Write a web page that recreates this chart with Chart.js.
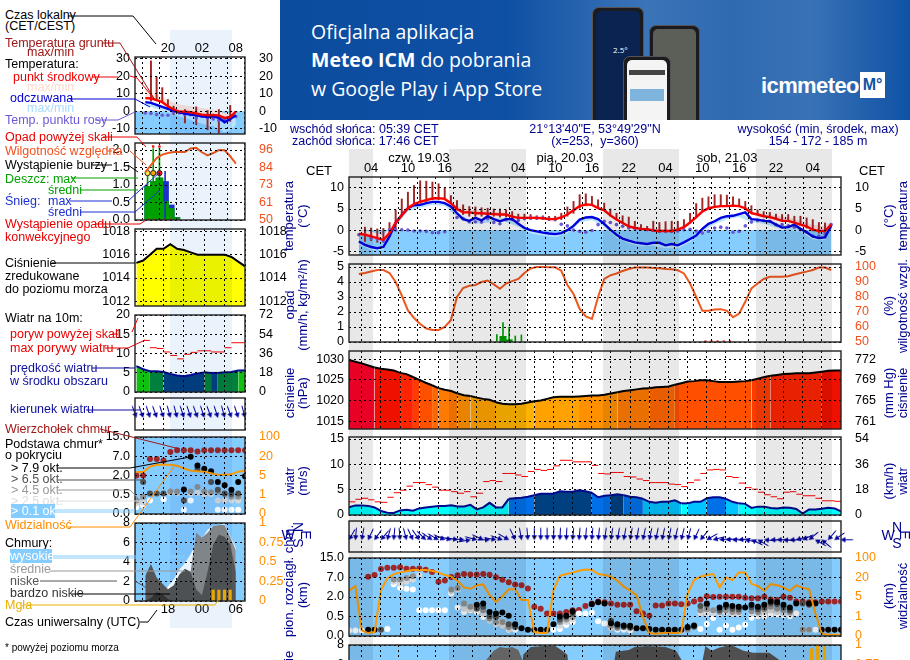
<!DOCTYPE html>
<html lang="pl">
<head>
<meta charset="utf-8">
<title>Meteogram</title>
<script src="https://cdn.jsdelivr.net/npm/chart.js@4"></script>
<style>
  html, body { margin: 0; padding: 0; width: 910px; height: 660px; overflow: hidden; background: #fff; }
  body { position: relative; font-family: "Liberation Sans", Arial, sans-serif; }
  canvas.panel { position: absolute; }
  .t { position: absolute; white-space: nowrap; font-size: 12.5px; line-height: 14px; transform: translateY(-50%); }
  .r { position: absolute; white-space: nowrap; font-size: 13px; line-height: 14px; color: #000090; transform: translate(-50%, -50%) rotate(-90deg); }
  .c { position: absolute; white-space: nowrap; font-size: 12.5px; line-height: 14px; transform: translate(-50%, -50%); }
  .shade { position: absolute; mix-blend-mode: multiply; z-index: 5; }
  #leaders { position: absolute; left: 0; top: 0; z-index: 6; }
  #banner { position: absolute; left: 280px; top: 0; width: 630px; height: 120px; overflow: hidden; color: #fff;
    background: linear-gradient(90deg, #0c4c9f 0%, #0e50a4 36%, #3c74b8 58%, #2f69b0 72%, #3a72b6 84%, #0f52a5 100%);
    font-family: "Open Sans", sans-serif; font-size: 19.5px; }
  #banner div { position: absolute; }
  .phone { background: #1b1b1f; border-radius: 7px; border: 1px solid #555; box-sizing: border-box; overflow: hidden; }
</style>
</head>
<body>

<div id="banner">
  <div style="left:31px;top:18px">Oficjalna aplikacja</div>
  <div style="left:31px;top:46px"><b>Meteo ICM</b> do pobrania</div>
  <div style="left:31px;top:75px">w Google Play i App Store</div>
  <div class="phone" style="left:312px;top:7px;width:52px;height:125px">
    <div style="left:3px;top:3px;width:44px;height:120px;background:#0b2350;border-radius:5px"></div>
    <div style="left:20px;top:36px;font-size:8px">2.5°</div>
  </div>
  <div class="phone" style="left:369px;top:25px;width:51px;height:110px">
    <div style="left:3px;top:3px;width:43px;height:100px;background:#5c5f58;border-radius:5px"></div>
  </div>
  <div class="phone" style="left:343px;top:56px;width:48px;height:80px">
    <div style="left:3px;top:3px;width:40px;height:72px;background:#f4f4f4;border-radius:5px"></div>
    <div style="left:5px;top:13px;width:36px;height:5px;background:#444"></div>
    <div style="left:6px;top:32px;width:34px;height:12px;background:#7fb4dd"></div>
  </div>
  <div style="left:481px;top:73px;font-size:22px;font-weight:700;letter-spacing:-0.6px;font-family:'Liberation Sans'">icmmeteo</div>
  <div style="left:580px;top:72px;width:25px;height:26px;background:#fff;color:#0f52a5;font:700 16px/26px 'Liberation Sans';text-align:center">M°</div>
</div>

<svg id="leaders" width="280" height="660" fill="none" stroke-width="1"></svg>

<script>
// ---- main meteogram: hour 0 = 02 CET on 19.03, one value per hour
const tempMid = [-.9,-1.1,-1.5,-1.9,-2.3,-.7,1.7,3.5,5.2,6.2,6.7,7.1,7.5,7.6,7.4,6.4,5,4.2,4.2,4,4,3.9,3.8,3.7,3.7,3.2,2.9,2.9,2.9,2.9,2.8,2.6,2.6,3,3.7,4.7,5.7,6.1,6,5.2,4.7,3.5,2.5,1.7,.9,.5,.3,.2,-.1,-.2,-.2,-.2,.1,.7,1.8,3.1,4.4,5.2,5.5,5.7,5.7,5.8,5.7,5.2,4,3.7,3.3,3.1,2.7,2.2,2.2,1.8,1.3,.9,.1,-.2,-.2,1.3];
const tempFeels = [-2.7,-3.5,-4,-4.3,-4,-1.5,1.7,3.6,5.2,5.9,6,6.4,6.7,6.7,6.4,5.6,4,2.6,2.2,2.9,2.3,3.3,2.6,2.1,2.6,2.6,1.5,.5,0,-.3,-.6,-.8,-.95,-.7,0,1,2.5,3,3.1,2.6,1.5,.1,-1.1,-2,-2.5,-2.9,-3.1,-3.3,-3,-3,-3.6,-3.3,-3.6,-2.9,-2.1,-1.3,.3,1.5,2.1,2.9,3.3,3.4,3.8,4.2,2.6,2.5,2.2,2.1,1.3,.6,.7,1.3,.3,-.5,-1.5,-1.9,-1.7,1];
const dewPoint = [-1.1,-1.1,-1.9,-2.1,-2.5,.1,0,.1,0,-.2,-.2,-.3,-.6,-.6,-.4,null,3,2.7,2,2,1.9,2.7,1.8,1.5,2.5,2.5,2.3,2.7,2.9,2.9,2.9,2.6,2.5,1.4,1,0,-.3,-.5,-.1,1.3,2.1,1.8,1.3,.9,.5,.4,.2,.1,-.1,-.3,-.3,-.3,-.2,.1,.2,-.2,-.7,-.3,.5,.7,.5,-.5,-.3,1,1.9,2.3,2.3,2.1,1.3,1.3,1,.7,.1,-.5,-1.4,-1.4,-.9,1.3];
const groundMax = [null,.7,.5,.3,.4,1.8,4.8,7.4,9,10.6,11.7,11.6,11.4,11,10,8.2,7,6,5.6,5.5,5.3,5.2,5,5,4.8,4.4,3.8,3.8,3.7,3.4,3.4,3.3,3.3,4,5.5,6.8,8.4,8.6,8,7.2,6.4,5,4,3.4,3.1,2.1,1.3,.9,2.1,1.8,2,2.1,2.1,2.5,4,6.3,7.6,7.9,8.4,8.4,8.3,7.9,7.4,6.8,5.8,4.8,4.4,4.2,3.8,3.7,3.7,3.3,3.3,2.9,2.5,1.8,1.7,null];
const groundMin = [null,-2.7,-2.5,-2.9,-2.9,-1.5,.1,3.3,5,5.8,6.4,6.8,7.2,7.2,7.2,6.4,4.8,3.7,3.3,3.3,3.3,3.3,3.3,3.1,3.1,2.8,2.6,2.5,2.5,2.5,2.5,2.3,2.2,2.5,3.3,4,5.2,5.8,5.8,5.5,4.7,3.3,2.5,1.7,.9,.5,.2,.2,-.1,-.3,-.3,-.3,-.1,.5,1.7,2.9,4.4,5.2,5.5,5.7,5.7,5.8,5.7,5.2,4,3.7,3.3,3.1,2.7,2.2,2.2,1.7,1.3,.5,-.2,-.7,-.5,null];
const bandHours = [0,2,4,6,8,10,12,14,16,18,20,22,24,26,28,30,32,34,36,38,40,42,44,46,48,50,52,54,56,58,60,62,64,66,68,70,72,74,76,77];
const tempHi = [0,-.3,-1.3,2.6,5.8,7.2,7.9,7.8,5.7,4.8,4.7,4.4,4.1,3.2,3.4,3.2,3,4.1,6,6.4,5.2,3,1.3,.7,.3,.2,.5,2.2,4.8,5.8,6,6,4.4,3.8,3.4,3,2.3,1.2,1,2];
const tempLo = [-1.2,-1.8,-2.6,1.4,4.9,6.4,7.2,7.1,4.6,3.9,3.7,3.5,3.4,2.6,2.6,2.5,2.3,3.4,5.4,5.7,4.4,2.2,.6,0,-.4,-.5,-.2,1.5,4.1,5.2,5.4,5.4,3.7,3,2.4,1.9,1,-.2,-.5,1];
const feelsHi = [-2.5,-3.8,-3.8,1.9,5.4,6.2,6.9,6.6,4.2,2.4,2.5,2.8,2.8,1.7,.2,-.4,-.7,.2,2.7,3.3,1.7,-.9,-2.3,-2.9,-2.8,-3.4,-3.4,-1.9,.5,2.3,3.5,4,2.8,2.4,1.5,.9,.5,-1.3,-1.5,1.2];
const feelsLo = [-3.3,-4.7,-4.7,1,4.4,5.3,6,5.7,3.2,1.5,1.6,1.9,1.9,.8,-.8,-1.3,-1.7,-.8,1.8,2.4,.8,-1.8,-3.1,-3.8,-3.7,-4.3,-4.3,-2.8,-.4,1.4,2.6,3.1,1.9,1.5,.6,-.1,-.4,-2.2,-2.4,.3];
const freezeHours = [0,77];
const freezeLine = [0,0];

const humidity = [95.3,96,97,98,98,96,90,81,71,66,62,59,58,58,60,64.5,80,86,87.5,88,90,91,88.4,85.5,89,90.6,92,96,99,100,100,99.8,99.8,97.5,88,82,72,67,65.4,80,92,94.4,95.7,97.3,98.7,99.6,99.6,99.6,99.4,99.2,98.7,98.5,97.8,95.7,89,80,70.8,70.8,71.6,71.9,70.8,66.5,69,76.8,85.7,89,92,93.5,93.5,93.5,93.8,95,96,96.9,98,99.6,99.6,98];
const rainMeanHours = [23.5,24.5];
const rainMean = [.38,.15];
const rainMaxHours = [21.5,22.5,23.5,24.5,25.5,26.5];
const rainMax = [.1,.5,1.3,1,.4,.47];
const convectiveHours = [56.5,57.5,58.5,59.5,60.5];
const convective = [.03,.03,.03,.03,.03];

const pressure = [1029.8,1029.4,1029,1028.5,1028,1027.7,1027.5,1027.3,1026.7,1026.4,1025.7,1025,1024.3,1023.7,1023,1022.6,1022.3,1021.7,1021.3,1021.1,1020.7,1020.4,1020.2,1019.6,1019.2,1019.1,1019.1,1019.2,1019.5,1019.8,1020,1020.4,1020.8,1020.9,1020.9,1020.9,1021,1021.1,1021.2,1021.2,1021.4,1021.7,1022,1022.3,1022.5,1022.7,1022.9,1023,1023.2,1023.3,1023.4,1023.8,1024.2,1024.6,1024.7,1024.9,1024.9,1024.7,1024.5,1024.5,1024.5,1024.6,1024.7,1024.9,1025.3,1025.7,1026,1026.2,1026.4,1026.5,1026.6,1026.6,1026.6,1026.8,1027,1027.2,1027.3,1027.3];
const pressureSteps = [1016.8,1018,1019.7,1021,1022,1023,1024,1025,1026,1027,1028,1029];
const pressureColors = ['#ffff00','#ffc800','#ffb300','#ffa200','#ff9000','#ff7a00','#ff6600','#ff5000','#ff3c00','#ff2400','#f01000','#ff0028','#ff0028'];

const windSpeed = [1.5,1.9,1.9,1.8,1.5,.8,.45,.4,.9,1.05,.85,1.3,1.5,1.65,1.8,1.8,1.9,1.7,1.7,2,1.1,1.5,2.4,1.5,1.5,3.2,3.3,3.4,3.6,3.9,4.2,4.2,4.2,4.7,4.6,4.6,4.9,4.7,4.4,3.5,3.8,3.9,4.1,3.9,3.6,3.5,3.2,2.6,2.4,2.6,2.6,2.9,2.3,2.3,2.6,2.6,3.3,3.5,3.5,3.2,2.6,2.3,2.2,1.4,1.65,1.65,1.4,1.3,1.5,1.45,1.2,.3,1.1,1.1,1.25,1.45,1.3,.7];
const windSteps = [2.45,3,4,5,5.5];
const windColors = ['#00ffff','#00c4ff','#0070e8','#004080','#00803c','#10c010'];
const gustHours = [.5,1.5,2.5,3.5,4.5,5.5,6.5,7.5,8.5,9.5,10.5,11.5,12.5,13.5,14.5,15.5,16.5,17.5,18.5,19.5,20.5,21.5,22.5,23.5,24.5,25.5,26.5,27.5,28.5,29.5,30.5,31.5,32.5,33.5,34.5,35.5,36.5,37.5,38.5,39.5,40.5,41.5,42.5,43.5,44.5,45.5,46.5,47.5,48.5,49.5,50.5,51.5,52.5,53.5,54.5,55.5,56.5,57.5,58.5,59.5,60.5,61.5,62.5,63.5,64.5,65.5,66.5,67.5,68.5,69.5,70.5,71.5,72.5,73.5,74.5,75.5,76.5];
const gusts = [2.6,3.1,3.3,3,2.6,2.5,3.5,4.4,4.9,5.7,6.4,6.4,6,5.5,4.9,4.9,4.6,4.3,4.6,3.6,4.3,6.6,6.8,6.6,8.2,8.2,7.9,7.6,8.6,9,8.8,9,9.7,10.8,10.8,10.5,10.5,10.5,9.8,8.2,8.1,8.4,8.4,7.6,7.5,7.1,6.8,6.4,6.4,6.4,6.1,6,5.6,6.4,6.9,8.2,8.9,9,8.9,7.6,7.4,6.3,5.4,5.1,4.5,4,3.6,3.2,4.5,4.6,4.1,3.8,3.8,3.3,2.8,2.8,2.7];

const windDir = [30,5,10,25,35,40,15,5,355,345,335,325,315,305,300,295,285,280,275,260,285,295,270,280,290,300,335,350,355,0,0,0,2,3,3,5,5,5,5,6,8,8,10,10,10,10,12,12,12,12,12,13,14,15,25,40,60,75,85,85,90,85,100,115,120,95,90,90,95,90,75,65,50,120,130,40,55,90];

const cloudTop = [null,null,null,7.3,8,10.5,11,11,11.2,10.6,10.6,10.7,10.2,9.3,5.9,6.2,7.2,7.9,8.4,8.2,8.2,8.4,8.1,7.1,6.4,5.8,5.2,5,4.2,1.25,1.1,.73,.73,.73,.85,.98,1,1.3,1.5,1.65,1.6,1.5,1.4,1.4,1.4,.9,.73,.55,1.35,1.35,1.5,1.5,1.45,1.5,1.65,1.8,2.2,2,2.05,2.05,2.05,2.05,1.95,1.9,1.9,2.05,1.8,1.76,2.05,1.95,1.65,1.65,1.6,1.6,1.65,1.65,1.65,1.65];
const cover79Hours = [3,4,20,21,22,23,24,25,26,27,28,29,30,31,32,33,34,35,38,39,40,41,42,43,44,45,46,47,48,49,50,51,52,53,54,56,58,59,60,61,62,63,64,65,66,67,68,69,70,72,73,74,75,76,77];
const cover79 = [.16,.16,1.4,1.5,.85,.73,.8,.55,.3,.2,.16,.16,.16,.16,.3,.5,.55,.9,1.45,1.6,1.5,.33,.3,.27,.26,.2,.2,.18,.16,.16,.16,.16,.16,.23,.27,1.5,1.2,1.4,1.3,1.25,1.2,1.4,1.25,1.4,1.65,1.6,1.4,1.2,1.5,1.5,1.5,.16,.16,.16,.16];
const cover65Hours = [5,20,21,22,23,25,26,33,34,35,41,42,43,44,53,54,55,56,58,59,60,61,63,64,65,66,67,68,69,71,72];
const cover65 = [.16,1.1,1.25,.52,.49,.3,.23,.42,.49,.73,.39,.26,.23,.21,.21,.24,1.3,1.4,.98,1.25,1.1,1.05,1.2,1.05,1.2,1.5,1.45,1.2,.98,1.5,1.4];
const cover45Hours = [7,8,9,10,16,17,18,19,20,21,22,23,24,25,33,34,35,41,42,53,55,56,57,58,59,60,61,63,64,65,66,67,68,69,71,72];
const cover45 = [6.5,6.5,6.9,7.5,3.9,4.3,1.5,1.25,1.25,.98,.45,.36,.36,.23,.36,.42,.49,.26,.21,.16,.98,1.05,.98,.85,.98,.85,.85,.9,.85,1.05,1.25,1.1,.98,.85,.16,.16];
const cover25Hours = [7,8,9,10,11,16,17,18,19,21,22,23,24,25,33,34,35,41,55,56,57,58,59,60,61,63,64,65,66,67,68,69];
const cover25 = [5.9,5.4,5.9,6.5,8,3.5,3.9,1.1,1.05,.73,.39,.3,.26,.18,.26,.36,.42,.2,.73,.73,.73,.73,.78,.7,.7,.73,.73,.85,.98,.85,.73,.73];
const cover01Hours = [0,1,2,3,6,7,8,9,10,11,12,13,14,15,16,17,18,19,20,21,22,23,24,25,26,32,33,34,35,36,37,38,39,40,41,42,43,44,55,56,57,58,59,60,61,62,63,64,65,66,67,68,69,70,72,73,74];
const cover01 = [.14,.14,.14,.14,.18,5.3,4.4,4.1,3.9,.98,.98,.98,.98,.98,2.9,1.2,.85,.98,.85,.49,.45,.36,.36,.16,.16,.16,.18,.28,.36,.73,.73,.78,.38,.32,.22,.16,.16,.14,.18,.31,.46,.16,.27,.16,.22,.29,.47,.52,.52,.66,.66,.6,.52,.73,.16,.16,.16];

const visibility = [9.8,13.4,.29,.15,.2,10.3,19.3,34,41,46,51,51,51,48,40,30,23,17.3,12.4,11.3,14,14.7,6.5,4,5.6,10.9,10.9,4.4,4.4,.2,.15,.15,10.3,27,34,40,48,53,51,34,30,23,17.6,13,9.8,6.5,.98,.15,.12,.15,.15,.15,.18,7.7,18,23,30,34,12.4,20.5,18,41,41,15,13.4,9.8,15,14,12.4,9.8,14,12,11,1.6,.12,.07,.07,.07];

const coverMidHours = [19,20.7,22,23,24,25,26,27,27.5];
const coverMid = [0,6.4,7.4,7.8,7.7,7.8,7.5,6,0];
const coverLowHours = [26,26.8,28,30,32,33,34,35,40,41.9,44,45,47,50,51.7,52.6,54,56.5,57.5,58.8,60.7,62.7,64.3,66.9,68.5,70];
const coverLow = [0,7,7.8,7.9,7.9,7.5,7,0,0,7.3,7.5,7.8,7.9,7.8,7.4,6.5,0,7.9,7.4,7.75,8,7.4,7.2,7.2,6.5,0];
const fogHours = [2.8,31,47.9,73.8,74.8,75.9,76.9];
const fog = [.55,.55,.72,.95,1,.98,.75];

// ---- small legend meteogram on the left
const miniHours = [16,17,18,19,20,21,22,23,24,25,26,27,28,29,30,31,32];
const miniTemp = [7.5,7.3,6.3,5.2,2.9,1,-.2,-.2,-.6,-1.3,-1.9,-2.3,-2.1,-2.5,-3.8,-3.3,-.2];
const miniFeels = [5.2,4.8,3.7,2.5,1.3,.4,-.6,-1.3,-1.9,-2.3,-2.9,-3.3,-2.9,-3.8,-6.3,-4.4,-2.3];
const miniDew = [-1,-1.3,-1.9,-2.3,-2.3,-.6,-1,-1.9,-1.9,-3.8,-2.9,-3.8,-4.4,-5.2,-4.8,-3.8,-3];
const miniTempHi = [13.5,11.5,9.6,8,6.7,5,3.8,3.4,2.9,2.4,1.9,1.5,1,0,-1,-.5,.6];
const miniFeelsLo = [3,2.5,1.5,.5,-.5,-1.5,-3,-4,-5,-6,-7,-8,-8.5,-10,-12,-11,-8];
const miniGroundHours = [17,18,19,20,21,23,25,27,29,31];
const miniGroundMax = [28.8,19.6,13.5,6.7,2.9,1,2.5,.4,1,3.3];
const miniGroundMin = [5.8,6,5.8,.9,-1.9,-6.7,-7.7,-10.6,-12.5,-5.8];
const miniHumidity = [81.5,86,90.7,93,94,94.7,94.7,94.7,97,97.4,94.5,92.5,94,96,95.8,92,87];
const miniRainHours = [16.5,17.5,18.5,19.5,20.5,21.5];
const miniRain = [.96,1.1,1.2,.53,.33,.07];
const miniSnow = [.96,1.1,1.2,1.1,.43,.07];
const miniRainMaxHours = [16.4,17.4,18.5];
const miniRainMax = [1.34,2.04,2.04];
const miniSnowMaxHours = [19.5];
const miniSnowMax = [1.39];
const miniOverflow = [2.1,2.1];
const miniOverflowHours = [17.4,18.5];
const miniStorm = [1.34,1.34,1.34];
const miniStormColors = ['#ffee33','#ffa500','#ee1111'];
const miniConvectiveHours = [16.5,17.5,18.5,19.5,20.5];
const miniConvective = [.02,.02,.02,.02,.02];
const miniPressure = [1015.3,1015.5,1016,1016.5,1016.5,1016.9,1016.5,1016.4,1016.2,1016,1016,1016,1016,1016,1015.8,1015.4,1015];
const miniWind = [6.7,5.9,5.4,5.4,5.2,4.7,4.3,4.1,4.4,4.8,5.1,4.95,4.95,5.1,5.2,5.6,5.6];
const miniGustHours = [17.5,18.5,19.5,20.5,21.5,22.5,23.5,24.5,25.5,26.5,27.5,28.5,29.5,30.5,31.5];
const miniGusts = [13.4,11.5,11.3,10.4,9.5,8.6,9.8,10.3,10.7,10.7,10.4,10.4,11.5,12.8,12.8];
const miniDir = [340,340,342,340,342,345,345,342,342,340,342,340,342,345,340,342,345];
const miniTop = [2,2,6.3,6.3,5.9,8.8,9.5,9.5,9.5,9,9.5,9.5,9.5,9.5,9.5,9.5,9.5];
const mini79Hours = [23,24,25,26,27,28,29,30,31,32];
const mini79 = [.9,6.9,4.6,3.75,3.1,1.5,1.25,.88,1.5,1.95];
const mini65Hours = [17,18,19,20,23,25,27,28,29,30,31];
const mini65 = [1.5,.6,.6,.6,.35,3.7,1.5,.88,.6,.55,.6];
const mini45Hours = [16,17,21,22,24,25,26,27,28,29,30,31];
const mini45 = [.35,.45,.75,.75,.75,1.1,.75,.7,.75,.55,.45,.45];
const mini25Hours = [16,17,20,21,22,24,25,26,27,28,29,30,31];
const mini25 = [.28,.3,.6,.65,.65,.6,.65,.6,.55,.35,.35,.35,.35];
const mini01Hours = [16,17,18,20,23,24,26,27,28,29,30,31];
const mini01 = [.18,.22,.35,.38,.11,.35,.6,.6,.11,.11,.11,.11];
const miniVisibility = [7.7,7.7,11.9,13.4,13.4,13.4,12.6,10.5,8.8,8.3,8,6.7,5.5,5.5,5.9,8,8.8];
const miniHigh = [0,0,0,0,1.5,2.2,3.2,3.9,4.8,5.9,6.4,7.3,7.7,7.8,7.9,6.7,5.4];
const miniMid = [0,0,0,0,0,0,0,0,3,7,6.5,7,7.7,7.8,7.8,6.6,5.2];
const miniLow = [2.6,3.8,2.4,1.8,1.2,1.6,2.7,3.3,3,1.2,.6,3,5.8,6.8,6.6,5.8,3];
const miniVeryLow = [0,.3,.9,.7,.2,0,0,0,0,0,0,0,0,0,0,0,0];
const miniFogHours = [28,29,30,31];
const miniFog = [.14,.14,.14,.14];

// tick labels
const hourTicks = [2,5,8,11,14,17,20,23,26,29,32,35,38,41,44,47,50,53,56,59,62,65,68,71,74];
const hourLabels = ['04','','10','','16','','22','','04','','10','','16','','22','','04','','10','','16','','22','','04'];
const miniHourTicks = [17,20,23,26,29,32];
const miniLocalLabels = ['','20','','02','','08'];
const miniUtcLabels = ['','18','','00','','06'];
const cloudStops = [0,.5,2,7,15];
const visStops = [0,1,5,20,100];
const cloudLabels = ['0.0','0.5','2.0','7.0','15.0'];
const visLabels = ['0','1','5','20','100'];

const BLUE_ZONE = '#85ccff';
const ORANGE = '#ff8c00';
const CLOUD_COLORS = ['#000000','#505050','#909090','#d8d8d8','#ffffff'];

// place a value on the cloud / visibility axis, which has equal steps between its ticks
function toLevel(v, stops) {
  if (v === null) return null;
  for (let i = 0; i < stops.length - 1; i++) {
    if (v <= stops[i + 1]) return i + (v - stops[i]) / (stops[i + 1] - stops[i]);
  }
  return stops.length - 1;
}
function pairs(xs, ys) { return xs.map((x, i) => ({ x: x, y: ys[i] })); }
function hourly(ys) { return ys.map((y, i) => ({ x: i, y: y })); }
function levels(xs, ys, stops) { return xs.map((x, i) => ({ x: x, y: toLevel(ys[i], stops) })); }
function floating(xs, lo, hi) {
  return xs.map((x, i) => ({ x: x, y: hi[i] === null ? null : [lo[i], hi[i]] })).filter(p => p.y);
}
function stepColor(v, steps, colors) {
  let i = 0;
  while (i < steps.length && v >= steps[i]) i++;
  return colors[i];
}
function line(data, color, width) {
  return { type: 'line', data: data, borderColor: color, borderWidth: width, pointRadius: 0, tension: 0, fill: false };
}
function dots(data, color, radius) {
  return { type: 'line', data: data, showLine: false, pointRadius: radius, pointBackgroundColor: color, pointBorderWidth: 0 };
}
function band(data, color, fill) {
  return { type: 'line', data: data, borderWidth: 0, pointRadius: 0, backgroundColor: color, fill: fill };
}
function bars(data, color, thickness, axis) {
  return { type: 'bar', data: data, backgroundColor: color, barThickness: thickness, grouped: false, yAxisID: axis || 'y' };
}
function dashes(data, size) {
  return { type: 'line', data: data, showLine: false, pointStyle: 'line', pointRadius: size, pointBorderColor: '#ff0000', pointBorderWidth: 1 };
}
function stepFill(data, steps, colors, lineColor) {
  return {
    type: 'line', data: data, borderColor: lineColor, borderWidth: 2, pointRadius: 0, fill: 'start', backgroundColor: colors[0],
    segment: { backgroundColor: ctx => stepColor((ctx.p0.parsed.y + ctx.p1.parsed.y) / 2, steps, colors) }
  };
}

// arrow glyph: the tip sits on the canvas centre and the tail goes up at rotation 0
function arrowGlyph(length) {
  const c = document.createElement('canvas');
  c.width = c.height = 33;
  const g = c.getContext('2d');
  g.strokeStyle = g.fillStyle = '#0000a0';
  g.lineWidth = 1;
  g.beginPath(); g.moveTo(16.5, 16.5 - length); g.lineTo(16.5, 16); g.stroke();
  g.beginPath(); g.moveTo(16.5, 17); g.lineTo(13.8, 12); g.lineTo(19.2, 12); g.closePath(); g.fill();
  return c;
}
function arrows(xs, dirs, length) {
  return { type: 'line', data: xs.map(x => ({ x: x, y: 0 })), showLine: false, clip: false,
           pointStyle: arrowGlyph(length), pointRotation: dirs };
}

const panelPlugin = {
  id: 'panelFrame',
  beforeDraw(chart, args, opts) {
    if (!opts.bg) return;
    const a = chart.chartArea;
    chart.ctx.fillStyle = opts.bg;
    chart.ctx.fillRect(a.left, a.top, a.width, a.height);
  },
  afterDraw(chart) {
    const a = chart.chartArea, ctx = chart.ctx;
    ctx.strokeStyle = '#222';
    ctx.lineWidth = 1.4;
    ctx.strokeRect(a.left, a.top, a.width, a.height);
  }
};

// one chart per meteogram panel, the canvas holds the panel plus its axis gutters
function addPanel(p) {
  const GL = p.gutterLeft, GR = p.gutterRight, G = 20;
  const canvas = document.createElement('canvas');
  canvas.className = 'panel';
  canvas.width = p.width + GL + GR;
  canvas.height = p.height + G * 2;
  canvas.style.left = (p.left - GL) + 'px';
  canvas.style.top = (p.top - G) + 'px';
  document.body.appendChild(canvas);

  const xBottom = p.xPos === 'bottom';
  const yCommon = {
    grid: { display: false }, border: { display: false }, 
  };
  const fixedTicks = list => axis => { axis.ticks = list.map(v => ({ value: v })); };
  const scales = {
    x: {
      type: 'linear', position: xBottom ? 'bottom' : 'top', min: p.xMin, max: p.xMax,
      afterBuildTicks: fixedTicks(p.xTicks),
      afterFit: axis => { axis.height = G; },
      grid: { color: '#000', z: 1, drawTicks: false },
      border: { display: false, dash: [2, 3] },
      ticks: {
        display: !!p.xLabels, padding: 1, maxRotation: 0, autoSkip: false, color: '#000',
        font: { family: 'Liberation Sans', size: 13 },
        callback: (v, i) => (p.xLabels ? p.xLabels[i] : '')
      }
    },
    y: Object.assign({}, yCommon, {
      min: p.yMin, max: p.yMax, position: 'left',
      afterBuildTicks: fixedTicks(p.yTicks || []),
      afterFit: axis => { axis.width = GL; },
      grid: { display: !!p.yTicks, color: '#000', z: 1, drawTicks: false },
      border: { display: false, dash: [2, 3] },
      ticks: {
        display: !!p.yLabels, padding: 5, autoSkip: false, color: '#000',
        font: { family: 'Liberation Sans', size: 12.5 },
        callback: (v, i) => (p.yLabels ? p.yLabels[i] : '')
      }
    }),
    y2: Object.assign({}, yCommon, {
      min: p.y2Min !== undefined ? p.y2Min : p.yMin, max: p.y2Max !== undefined ? p.y2Max : p.yMax, position: 'right',
      afterBuildTicks: fixedTicks(p.y2Ticks || p.yTicks || []),
      afterFit: axis => { axis.width = GR; },
      ticks: {
        display: !!p.y2Labels, padding: 6, autoSkip: false, color: p.y2Color || '#000',
        font: { family: 'Liberation Sans', size: 12.5 },
        callback: (v, i) => (p.y2Labels ? p.y2Labels[i] : '')
      }
    })
  };

  return new Chart(canvas, {
    type: 'line',
    data: { datasets: p.datasets },
    plugins: [panelPlugin],
    options: {
      responsive: false,
      animation: false,
      layout: { padding: { top: xBottom ? G : 0, bottom: xBottom ? 0 : G, left: 0, right: 0 } },
      scales: scales,
      plugins: { legend: { display: false }, tooltip: { enabled: false }, panelFrame: { bg: p.bg } }
    }
  });
}

const MAIN = { left: 349, width: 492, gutterLeft: 49, gutterRight: 59, xMin: 0, xMax: 77, xTicks: hourTicks };
const MINI = { left: 135, width: 110, gutterLeft: 40, gutterRight: 45, xMin: 15.8, xMax: 32, xTicks: miniHourTicks };

// ---- main panels
addPanel({ ...MAIN, top: 177, height: 78, xLabels: hourLabels,
  yMin: -5.9, yMax: 12.6, yTicks: [-5, 0, 5, 10], yLabels: ['-5', '0', '5', '10'], y2Labels: ['-5', '0', '5', '10'],
  datasets: [
    line(hourly(tempMid), '#ff0000', 2.4),
    line(hourly(tempFeels), '#0000e0', 2.4),
    dots(hourly(dewPoint), '#6a5ad8', 1.8),
    bars(floating(hourly(groundMax).map(p => p.x), groundMin, groundMax), '#a02828', 1.3),
    band(pairs(bandHours, tempHi), '#ffdcdc', '+1'),
    band(pairs(bandHours, tempLo), '#ffdcdc', false),
    band(pairs(bandHours, feelsHi), '#b8e4ff', '+1'),
    band(pairs(bandHours, feelsLo), '#b8e4ff', false),
    band(pairs(freezeHours, freezeLine), BLUE_ZONE, 'start')
  ] });

addPanel({ ...MAIN, top: 264, height: 78,
  yMin: 0, yMax: 5.2, yTicks: [0, 1, 2, 3, 4, 5], yLabels: ['0', '1', '2', '3', '4', '5'],
  y2Min: 50, y2Max: 102, y2Ticks: [50, 60, 70, 80, 90, 100], y2Labels: ['50', '60', '70', '80', '90', '100'], y2Color: '#f0501e',
  datasets: [
    Object.assign(line(hourly(humidity), '#f0581e', 2), { yAxisID: 'y2' }),
    Object.assign(dots(pairs(convectiveHours, convective), '#ee1111', 1.6), { pointStyle: 'rect' }),
    bars(pairs(rainMaxHours, rainMax), '#00a000', 1),
    bars(pairs(rainMeanHours, rainMean), '#00a000', 6.4)
  ] });

addPanel({ ...MAIN, top: 351, height: 78,
  yMin: 1013.1, yMax: 1032, yTicks: [1015, 1020, 1025, 1030], yLabels: ['1015', '1020', '1025', '1030'], y2Labels: ['761', '765', '769', '772'],
  datasets: [stepFill(hourly(pressure), pressureSteps, pressureColors, '#000')] });

addPanel({ ...MAIN, top: 437, height: 78,
  yMin: 0, yMax: 15.4, yTicks: [0, 5, 10, 15], yLabels: ['0', '5', '10', '15'], y2Labels: ['0', '18', '36', '54'],
  datasets: [
    dashes(pairs(gustHours, gusts), 3.2),
    stepFill(hourly(windSpeed), windSteps, windColors, '#000a90')
  ] });

addPanel({ ...MAIN, top: 521, height: 31, yMin: -.65, yMax: 1,
  datasets: [arrows(hourly(windDir).map(p => p.x), windDir, 12)] });

addPanel({ ...MAIN, top: 558, height: 78, bg: BLUE_ZONE,
  yMin: 0, yMax: 4, yTicks: [0, 1, 2, 3, 4], yLabels: cloudLabels, y2Labels: visLabels, y2Color: ORANGE,
  datasets: [
    line(hourly(visibility.map(v => toLevel(v, visStops))), '#ff9a00', 2),
    dots(levels(cover79Hours, cover79, cloudStops), CLOUD_COLORS[0], 3),
    dots(levels(cover65Hours, cover65, cloudStops), CLOUD_COLORS[1], 3),
    dots(levels(cover45Hours, cover45, cloudStops), CLOUD_COLORS[2], 3),
    dots(levels(cover25Hours, cover25, cloudStops), CLOUD_COLORS[3], 3),
    dots(levels(cover01Hours, cover01, cloudStops), CLOUD_COLORS[4], 3),
    dots(hourly(cloudTop.map(v => toLevel(v, cloudStops))), '#a02828', 3)
  ] });

addPanel({ ...MAIN, top: 645, height: 78, bg: BLUE_ZONE,
  yMin: 0, yMax: 8, yTicks: [0, 2, 4, 6, 8], yLabels: ['0', '2', '4', '6', '8'],
  y2Min: 0, y2Max: 1, y2Ticks: [0, .25, .5, .75, 1], y2Labels: ['0', '0.25', '0.5', '0.75', '1'], y2Color: ORANGE,
  datasets: [
    bars(pairs(fogHours, fog), '#ffb000', 2.5, 'y2'),
    Object.assign(band(pairs(coverLowHours, coverLow), '#505050', 'start')),
    Object.assign(band(pairs(coverMidHours, coverMid), '#6e6e6e', 'start'))
  ] });

// ---- legend panels
addPanel({ ...MINI, top: 57, height: 77, xLabels: miniLocalLabels,
  yMin: -13, yMax: 31, yTicks: [-10, 0, 10, 20, 30], yLabels: ['-10', '0', '10', '20', '30'], y2Labels: ['-10', '0', '10', '20', '30'],
  datasets: [
    line(pairs(miniHours, miniTemp), '#ff0000', 2.4),
    line(pairs(miniHours, miniFeels), '#0000e0', 2.4),
    dots(pairs(miniHours, miniDew), '#6a5ad8', 1.8),
    bars(floating(miniGroundHours, miniGroundMin, miniGroundMax), '#a02828', 1.3),
    band(pairs(miniHours, miniTempHi), '#ffe6dc', '+1'),
    band(pairs(miniHours, miniTemp), '#ffe6dc', false),
    band(pairs(miniHours, miniFeels), '#b8e4ff', '+1'),
    band(pairs(miniHours, miniFeelsLo), '#b8e4ff', false),
    band(pairs(freezeHours, freezeLine), BLUE_ZONE, 'start')
  ] });

addPanel({ ...MINI, top: 143, height: 77,
  yMin: 0, yMax: 2.2, yTicks: [0, .5, 1, 1.5, 2], yLabels: ['0.0', '0.5', '1.0', '1.5', '2.0'],
  y2Min: 50, y2Max: 100.6, y2Ticks: [50, 61.5, 73, 84.5, 96], y2Labels: ['50', '61', '73', '84', '96'], y2Color: '#f0501e',
  datasets: [
    Object.assign(line(pairs(miniHours, miniHumidity), '#f0581e', 2), { yAxisID: 'y2' }),
    Object.assign(dots(pairs(miniOverflowHours, miniOverflow), '#ee1111', 1.7), { pointStyle: 'rect' }),
    Object.assign(dots(pairs(miniRainMaxHours, miniStorm), miniStormColors, 2.6), { pointBorderWidth: 1, pointBorderColor: '#222' }),
    Object.assign(dots(pairs(miniConvectiveHours, miniConvective), '#ee1111', 1), { pointStyle: 'rect' }),
    bars(pairs(miniRainMaxHours, miniRainMax), '#00a000', 1),
    bars(pairs(miniSnowMaxHours, miniSnowMax), '#1c30d0', 1),
    bars(pairs(miniRainHours, miniRain), '#00a000', 6.9),
    bars(pairs(miniRainHours, miniSnow), '#1c30d0', 6.9)
  ] });

addPanel({ ...MINI, top: 229, height: 77,
  yMin: 1011.6, yMax: 1018.2, yTicks: [1012, 1014, 1016, 1018], yLabels: ['1012', '1014', '1016', '1018'], y2Labels: ['1012', '1014', '1016', '1018'],
  datasets: [stepFill(pairs(miniHours, miniPressure), pressureSteps, pressureColors, '#000')] });

addPanel({ ...MINI, top: 315, height: 77,
  yMin: 0, yMax: 20, yTicks: [0, 5, 10, 15, 20], yLabels: ['0', '5', '10', '15', '20'], y2Labels: ['0', '18', '36', '54', '72'],
  datasets: [
    dashes(pairs(miniGustHours, miniGusts), 3.4),
    stepFill(pairs(miniHours, miniWind), windSteps, windColors, '#000a90')
  ] });

addPanel({ ...MINI, top: 398, height: 32, yMin: -.65, yMax: 1,
  datasets: [arrows(miniHours, miniDir, 12)] });

addPanel({ ...MINI, top: 437, height: 77, bg: BLUE_ZONE,
  yMin: 0, yMax: 4, yTicks: [0, 1, 2, 3, 4], yLabels: cloudLabels, y2Labels: visLabels, y2Color: ORANGE,
  datasets: [
    line(pairs(miniHours, miniVisibility.map(v => toLevel(v, visStops))), '#ff9a00', 2),
    dots(levels(mini79Hours, mini79, cloudStops), CLOUD_COLORS[0], 3),
    dots(levels(mini65Hours, mini65, cloudStops), CLOUD_COLORS[1], 3),
    dots(levels(mini45Hours, mini45, cloudStops), CLOUD_COLORS[2], 3),
    dots(levels(mini25Hours, mini25, cloudStops), CLOUD_COLORS[3], 3),
    dots(levels(mini01Hours, mini01, cloudStops), CLOUD_COLORS[4], 3),
    dots(levels(miniHours, miniTop, cloudStops), '#a02828', 3)
  ] });

addPanel({ ...MINI, top: 523, height: 78, bg: BLUE_ZONE, xPos: 'bottom', xLabels: miniUtcLabels,
  yMin: 0, yMax: 8, yTicks: [0, 2, 4, 6, 8], yLabels: ['0', '2', '4', '6', '8'],
  y2Min: 0, y2Max: 1, y2Ticks: [0, .25, .5, .75, 1], y2Labels: ['0', '0.25', '0.5', '0.75', '1'], y2Color: ORANGE,
  datasets: [
    bars(pairs(miniFogHours, miniFog), '#ffb000', 2.5, 'y2'),
    band(pairs(miniHours, miniVeryLow), '#333333', 'start'),
    band(pairs(miniHours, miniLow), '#555555', 'start'),
    band(pairs(miniHours, miniMid), '#8c8c8c', 'start'),
    band(pairs(miniHours, miniHigh), '#ffffff', 'start')
  ] });

// ---- night shading, drawn over the panels so the blue zones darken too
function shade(left, right, top, bottom, color) {
  const d = document.createElement('div');
  d.className = 'shade';
  d.style.cssText = `left:${left}px;width:${right - left}px;top:${top}px;height:${bottom - top}px;background:${color}`;
  document.body.appendChild(d);
}
[[349, 373], [449, 526], [603, 679], [756, 832]].forEach(b => shade(b[0], b[1], 149, 660, '#e8e8e8'));
shade(170, 232, 30, 628, '#eaf2fc');

// ---- text
function text(cls, str, x, y, color, extra) {
  const d = document.createElement('div');
  d.className = cls;
  d.textContent = str;
  d.style.left = x + 'px';
  d.style.top = y + 'px';
  if (color) d.style.color = color;
  if (extra) d.style.cssText += extra;
  document.body.appendChild(d);
}
const NAVY = '#000090';
[
  ['Czas lokalny', 5, 15, '#000'], ['(CET/CEST)', 5, 26, '#000'],
  ['Temperatura gruntu', 5, 43, '#a01818'], ['max/min', 27, 52, '#a01818'],
  ['Temperatura:', 5, 64, '#000'], ['punkt środkowy', 13, 77, '#f00000'], ['max/min', 27, 87, '#ffdccc'],
  ['odczuwana', 10, 98, '#0000d0'], ['max/min', 27, 108, '#a8dcff'], ['Temp. punktu rosy', 5, 120, '#6a5ad8'],
  ['Opad powyżej skali', 5, 137, '#e80000'], ['Wilgotność względna', 5, 151, '#f0501e'], ['Wystąpienie burzy', 5, 165, '#000'],
  ['Deszcz: max', 5, 179, '#00a000'], ['średni', 48, 190, '#00a000'], ['Śnieg:', 5, 201, '#1c30d0'], ['max', 48, 201, '#1c30d0'], ['średni', 48, 212, '#1c30d0'],
  ['Wystąpienie opadu', 5, 224, '#e80000'], ['konwekcyjnego', 5, 237, '#e80000'],
  ['Ciśnienie', 5, 263, '#000'], ['zredukowane', 5, 276, '#000'], ['do poziomu morza', 5, 289, '#000'],
  ['Wiatr na 10m:', 5, 318, '#000'], ['poryw powyżej skali', 10, 334, '#e80000'], ['max porywy wiatru', 10, 348, '#e80000'],
  ['prędkość wiatru', 10, 368, '#1010a0'], ['w środku obszaru', 10, 381, '#1010a0'], ['kierunek wiatru', 10, 409, '#1010a0'],
  ['Wierzchołek chmur', 5, 429, '#a01818'], ['Podstawa chmur*', 5, 444, '#000'], ['o pokryciu', 5, 455, '#000'],
  ['> 7.9 okt.', 11, 468, '#000'], ['> 6.5 okt.', 11, 479, '#505050'], ['> 4.5 okt.', 11, 490, '#999'], ['> 2.5 okt.', 11, 501, '#ddd'],
  ['Widzialność', 5, 525, '#ff8c00'], ['Chmury:', 5, 543, '#000'],
  ['średnie', 10, 569, '#999'], ['niske', 10, 581, '#555'], ['bardzo niskie', 10, 593, '#333'], ['Mgła', 5, 605, '#e8b000'],
  ['Czas uniwersalny (UTC)', 5, 622, '#000']
].forEach(n => text('t', n[0], n[1], n[2], n[3]));
text('t', '> 0.1 okt.', 11, 511, '#fff', 'background:#85ccff;width:44px;');
text('t', 'wysokie', 10, 556, '#fff', 'background:#85ccff;width:42px;');
text('t', '* powyżej poziomu morza', 5, 648, '#000', 'font-size:10px;');

text('t', 'wschód słońca: 05:39 CET', 290, 129, NAVY);
text('t', 'zachód słońca: 17:46 CET', 292, 141, NAVY);
text('c', '21°13\'40"E, 53°49\'29"N', 595, 129, NAVY);
text('c', '(x=253,  y=360)', 595, 141, NAVY, 'white-space:pre;');
text('c', 'wysokość (min, środek, max)', 818, 129, NAVY);
text('c', '154 - 172 - 185 m', 818, 141, NAVY);
text('c', 'czw, 19.03', 419, 158, '#000', 'font-size:13px;');
text('c', 'pią, 20.03', 565, 158, '#000', 'font-size:13px;');
text('c', 'sob, 21.03', 727, 158, '#000', 'font-size:13px;');
text('c', 'CET', 319, 171, '#000', 'font-size:13px;');
text('c', 'CET', 872, 171, '#000', 'font-size:13px;');

[
  ['temperatura', 289, 216], ['(°C)', 303, 216], ['opad', 290, 305], ['(mm/h, kg/m²/h)', 303, 305],
  ['ciśnienie', 290, 393], ['(hPa)', 303, 393], ['wiatr', 290, 481], ['(m/s)', 303, 481],
  ['pion. rozciągł. chm.', 289, 581], ['(km)', 303, 595], ['pokrycie', 289, 675],
  ['temperatura', 903, 216], ['(°C)', 889, 216], ['wilgotność wzgl.', 903, 306], ['(%)', 889, 306],
  ['ciśnienie', 903, 393], ['(mm Hg)', 889, 393], ['wiatr', 903, 481], ['(km/h)', 889, 481],
  ['widzialność', 903, 596], ['(km)', 889, 596]
].forEach(n => text('r', n[0], n[1], n[2]));

[['W', 288, 535, 0], ['N', 298, 527, 90], ['E', 306, 535, 90], ['S', 298, 543, 90],
 ['W', 888, 535, 0], ['N', 897, 527, 0], ['E', 905, 535, 90], ['S', 897, 543, 0]].forEach(n => {
  text('c', n[0], n[1], n[2], NAVY, `font-size:14px;transform:translate(-50%,-50%) rotate(${n[3]}deg);`);
});

// ---- leader lines from the legend text to the small panels
const leaders = [
  ['#000', '68,16 133,16 156,44'], ['#a01818', '102,43 120,43 155,100'], ['#f00000', '92,77 118,77'], ['#f00000', '130,76 137,78 155,100'],
  ['#0000d0', '70,99 135,99 150,107'], ['#6a5ad8', '95,120 118,120 135,112'], ['#e80000', '103,137 137,137 146,147'],
  ['#f0501e', '107,151 112,151'], ['#f0501e', '130,151 146,165'], ['#000', '92,165 112,165'], ['#000', '128,165 138,172'],
  ['#00a000', '71,178 138,178'], ['#00a000', '80,190 138,190'], ['#1c30d0', '70,201 112,201'], ['#1c30d0', '128,201 160,172'],
  ['#1c30d0', '80,212 135,212 160,190'], ['#e80000', '95,224 140,224 146,220'], ['#000', '52,263 135,263'],
  ['#e80000', '112,334 118,334'], ['#e80000', '132,332 138,318'], ['#e80000', '105,348 128,348 145,340'],
  ['#1010a0', '92,368 135,368'], ['#1010a0', '86,410 140,410'], ['#a01818', '100,429 180,449'],
  ['#000', '58,468 130,468 190,457'], ['#505050', '58,480 142,480'], ['#999', '58,490 130,490 145,505'], ['#ddd', '58,501 143,501'],
  ['#85ccff', '55,510 135,510'], ['#85ccff', '55,512 135,512'], ['#ff8c00', '68,527 130,527 175,465'],
  ['#85ccff', '53,556 185,556'], ['#85ccff', '53,558 185,558'], ['#999', '50,571 185,571'], ['#555', '40,581 117,581'], ['#555', '135,581 150,590'],
  ['#000', '72,594 170,594'], ['#e8b000', '25,605 215,605 218,600'], ['#000', '140,622 148,622 157,610']
];
const svg = document.getElementById('leaders');
leaders.forEach(l => {
  const el = document.createElementNS('http://www.w3.org/2000/svg', 'polyline');
  el.setAttribute('points', l[1]);
  el.setAttribute('stroke', l[0]);
  svg.appendChild(el);
});
</script>
</body>
</html>
